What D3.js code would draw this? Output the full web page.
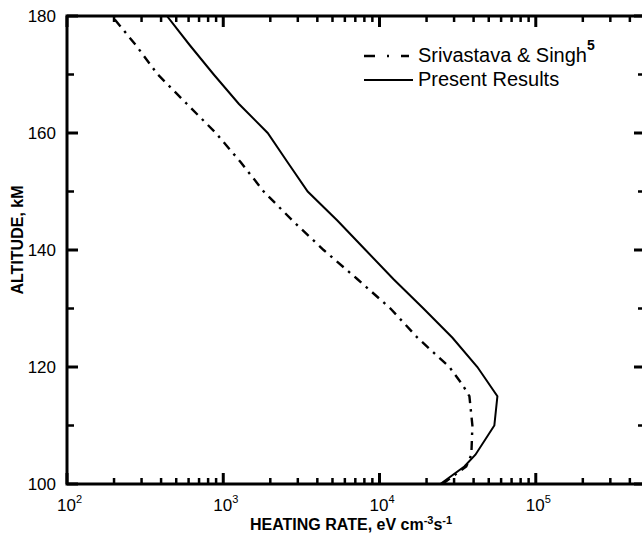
<!DOCTYPE html>
<html>
<head>
<meta charset="utf-8">
<script src="https://cdn.jsdelivr.net/npm/d3@7"></script>
<style>
  body { margin: 0; background: #fff; }
  svg { font-family: "Liberation Sans", Arial, sans-serif; }
</style>
</head>
<body>
<svg id="chart"></svg>
<script>
// 1: DATA
const altitudes = [100, 103, 105, 110, 115, 120, 125, 130, 135, 140, 145, 150, 155, 160, 165, 170, 175, 180];
const presentResults = [24500, 34900, 41100, 54300, 56800, 42300, 29300, 19100, 12300, 8140, 5390, 3470, 2580, 1925, 1256, 869, 611, 436];

const srivAltitudes = [100, 103, 105, 110, 115, 117, 120, 125, 130, 135, 140, 145, 150, 155, 160, 165, 170, 175, 180];
const srivastavaSingh = [25300, 35900, 38700, 39300, 37600, 33900, 28000, 17500, 11750, 7230, 4390, 2780, 1815, 1294, 896, 584, 381, 276, 194];

const xMajorTicks = [1e2, 1e3, 1e4, 1e5];
const xMajorExponents = ["2", "3", "4", "5"];
const yMajorTicks = [100, 120, 140, 160, 180];
const yMinorTicks = [110, 130, 150, 170];

// 2: LAYOUT
const W = 642, H = 535;
const plot = { left: 67, right: 645, top: 16, bottom: 484 };

const svg = d3.select("#chart").attr("width", W).attr("height", H);

// 3: SCALES
const x = d3.scaleLog().domain([1e2, 5e5]).range([plot.left, plot.right]);
const y = d3.scaleLinear().domain([100, 180]).range([plot.bottom, plot.top]);

const xMinorTicks = [];
xMajorTicks.forEach(d => {
    for (let k = 2; k <= 9; k++) if (k * d <= 5e5) xMinorTicks.push(k * d);
});

// 4: TICKS (all pointing inward)
const ticks = svg.append("g");

function xTicks(values, len, w) {
    [plot.bottom, plot.top].forEach((y0, side) => {
        values.forEach(d => {
            ticks.append("line")
                .attr("x1", x(d)).attr("x2", x(d))
                .attr("y1", y0)
                .attr("y2", side === 0 ? y0 - len : y0 + len)
                .attr("stroke", "#000")
                .attr("stroke-width", w);
        });
    });
}
function yTicks(values, len, w) {
    [plot.left, plot.right].forEach((x0, side) => {
        values.forEach(d => {
            ticks.append("line")
                .attr("y1", y(d)).attr("y2", y(d))
                .attr("x1", x0)
                .attr("x2", side === 0 ? x0 + len : x0 - len)
                .attr("stroke", "#000")
                .attr("stroke-width", w);
        });
    });
}
xTicks(xMajorTicks, 11, 3);
xTicks(xMinorTicks, 6, 2.5);
yTicks(yMajorTicks, 11, 3);
yTicks(yMinorTicks, 7, 2.5);

// frame
svg.append("rect")
    .attr("x", plot.left).attr("y", plot.top)
    .attr("width", plot.right - plot.left).attr("height", plot.bottom - plot.top)
    .attr("fill", "none").attr("stroke", "#000").attr("stroke-width", 3);

// tick labels
svg.selectAll(".ylab")
    .data(yMajorTicks)
    .join("text")
    .attr("x", plot.left - 11)
    .attr("y", d => y(d) + 6)
    .attr("text-anchor", "end")
    .attr("font-size", 17)
    .text(d => d);

const xl = svg.selectAll(".xlab")
    .data(xMajorTicks)
    .join("text")
    .attr("x", d => x(d) - 10)
    .attr("y", 511)
    .attr("font-size", 17);
xl.append("tspan").text("10");
xl.append("tspan").attr("dy", -8).attr("font-size", 11).text((d, i) => xMajorExponents[i]);

// axis titles
const xt = svg.append("text")
    .attr("x", 250).attr("y", 530)
    .attr("font-size", 16).attr("font-weight", "bold");
xt.append("tspan").text("HEATING RATE, eV cm");
xt.append("tspan").attr("dy", -6).attr("font-size", 11).text("-3");
xt.append("tspan").attr("dy", 6).text("s");
xt.append("tspan").attr("dy", -6).attr("font-size", 11).text("-1");

svg.append("text")
    .attr("transform", `translate(23,240) rotate(-90)`)
    .attr("text-anchor", "middle")
    .attr("font-size", 16).attr("font-weight", "bold")
    .text("ALTITUDE, kM");

// 5: LINES
svg.append("clipPath").attr("id", "clip")
    .append("rect").attr("x", plot.left).attr("y", plot.top)
    .attr("width", plot.right - plot.left).attr("height", plot.bottom - plot.top);

const line = d3.line()
    .x(d => x(d[0]))
    .y(d => y(d[1]));

svg.append("path")
    .datum(srivastavaSingh.map((v, i) => [v, srivAltitudes[i]]))
    .attr("clip-path", "url(#clip)")
    .attr("fill", "none")
    .attr("stroke", "#000")
    .attr("stroke-width", 2.4)
    .attr("stroke-dasharray", "9,6,2.5,6")
    .attr("d", line);

svg.append("path")
    .datum(presentResults.map((v, i) => [v, altitudes[i]]))
    .attr("clip-path", "url(#clip)")
    .attr("fill", "none")
    .attr("stroke", "#000")
    .attr("stroke-width", 2)
    .attr("d", line);

// 6: LEGEND
svg.append("line")
    .attr("x1", 364).attr("x2", 409).attr("y1", 56).attr("y2", 56)
    .attr("stroke", "#000").attr("stroke-width", 2.5)
    .attr("stroke-dasharray", "11,12,2,12");
svg.append("line")
    .attr("x1", 364).attr("x2", 413).attr("y1", 80).attr("y2", 80)
    .attr("stroke", "#000").attr("stroke-width", 2.2);

const lt = svg.append("text").attr("x", 418).attr("y", 62).attr("font-size", 20);
lt.append("tspan").text("Srivastava & Singh");
lt.append("tspan").attr("dy", -12).attr("font-size", 14).attr("font-weight", "bold").text("5");

svg.append("text").attr("x", 418).attr("y", 86).attr("font-size", 20).text("Present Results");
</script>
</body>
</html>
